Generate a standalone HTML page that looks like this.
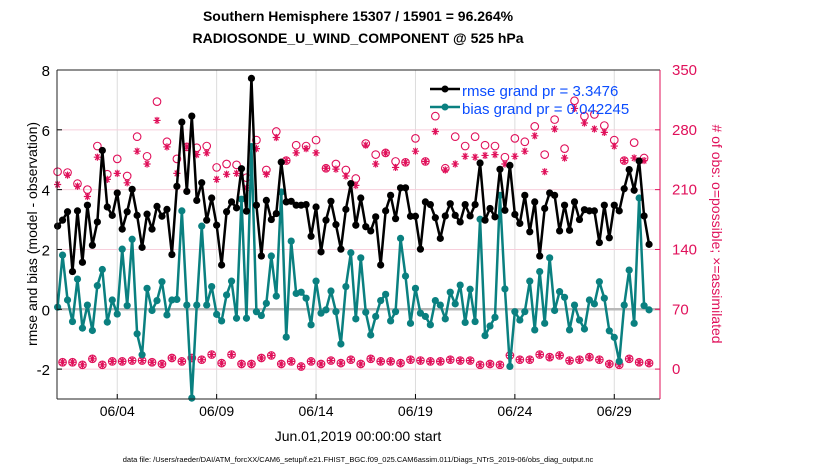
<!DOCTYPE html>
<html><head><meta charset="utf-8"><style>
body{margin:0;background:#fff;width:830px;height:470px;overflow:hidden}
svg text{font-family:"Liberation Sans",Arial,sans-serif}
</style></head><body>
<svg id="chart" width="830" height="470" xmlns="http://www.w3.org/2000/svg">
<text x="358" y="21" font-size="14" font-weight="bold" text-anchor="middle">Southern Hemisphere 15307 / 15901 = 96.264%</text>
<text x="358" y="43" font-size="14" font-weight="bold" text-anchor="middle">RADIOSONDE_U_WIND_COMPONENT @ 525 hPa</text>
<text transform="translate(37,234) rotate(-90)" font-size="14" text-anchor="middle">rmse and bias (model - observation)</text>
<text transform="translate(712,234) rotate(90)" font-size="14" text-anchor="middle" fill="#e0105a"># of obs: o=possible; ×=assimilated</text>
<text x="358" y="441" font-size="14" text-anchor="middle">Jun.01,2019 00:00:00 start</text>
<text x="358" y="462" font-size="7.5" text-anchor="middle">data file: /Users/raeder/DAI/ATM_forcXX/CAM6_setup/f.e21.FHIST_BGC.f09_025.CAM6assim.011/Diags_NTrS_2019-06/obs_diag_output.nc</text>
<g id="grid"></g><g id="marks"></g><g id="axes"></g>
<g>
<line x1="430" y1="89" x2="460" y2="89" stroke="#000" stroke-width="2.5"/><circle cx="445" cy="89" r="3.5" fill="#000"/>
<text x="462" y="96" font-size="15" fill="#0a4cff">rmse grand pr = 3.3476</text>
<line x1="430" y1="107" x2="460" y2="107" stroke="#0a8080" stroke-width="2.5"/><circle cx="445" cy="107" r="3.5" fill="#0a8080"/>
<text x="462" y="114" font-size="15" fill="#0a4cff">bias grand pr = 0.042245</text>
</g>
</svg>
<script>
const rmse=[2.78,2.98,3.26,1.26,3.29,1.57,3.48,2.14,2.92,5.31,3.42,3.14,3.89,2.68,3.26,4.01,3.14,2.07,3.18,2.68,3.44,3.11,3.34,1.83,4.11,6.26,3.94,6.46,3.64,4.23,2.98,3.72,2.81,1.48,3.26,3.59,3.39,4.70,3.28,7.72,3.48,1.78,3.64,3.00,3.20,4.92,3.59,3.61,3.48,3.48,3.50,2.44,3.42,1.92,2.98,3.61,2.83,2.01,3.34,4.20,2.81,3.72,2.76,2.62,3.09,1.48,3.29,3.81,3.03,4.06,4.06,3.11,3.11,2.01,3.59,3.50,3.06,2.37,3.12,3.53,3.14,2.92,3.50,3.12,3.50,4.89,2.98,3.37,3.09,4.68,3.31,4.81,3.17,2.87,3.81,2.59,3.59,1.78,3.37,3.89,3.81,2.62,3.48,2.64,3.59,3.00,3.33,3.29,3.29,2.23,3.48,2.39,3.48,3.29,4.03,4.67,3.98,4.96,3.12,2.17];
const bias=[0.07,1.81,0.31,-0.41,1.01,-0.63,0.14,-0.71,0.79,1.33,-0.43,0.31,-0.16,2.01,0.12,2.34,-0.82,-1.52,0.70,-0.04,0.29,0.92,-0.19,0.31,0.33,3.29,0.14,-2.97,0.14,2.78,0.14,0.76,-0.17,-0.39,0.48,0.94,-0.30,3.68,-0.30,5.44,-0.08,-0.21,0.20,1.78,0.44,3.92,-0.93,2.28,0.53,0.57,0.37,-0.52,0.94,-0.13,-0.02,0.61,-0.08,-1.16,0.76,1.89,-0.32,1.72,-0.10,-0.86,-0.24,0.29,0.50,-0.39,-0.08,2.37,1.11,-0.47,0.70,-0.13,-0.24,-0.52,0.29,0.14,-0.32,0.57,0.18,0.81,-0.44,0.67,-0.41,3.01,-0.88,-0.56,-0.27,3.81,0.68,-1.91,-0.08,-0.36,-0.08,0.94,-0.69,1.26,-0.47,1.72,-0.04,0.59,0.40,-0.69,0.14,-0.36,-0.66,0.31,0.18,0.92,0.37,-0.72,-0.94,-1.74,0.14,1.31,-0.47,3.72,0.12,-0.02];
const possEven=[231,230,217,210,261,228,246,226,272,249,313,266,246,260,259,261,236,240,239,224,268,233,278,244,262,261,268,235,240,233,223,264,251,253,243,242,270,243,296,235,272,261,272,262,261,248,270,266,284,251,292,258,314,296,298,285,268,244,265,247];
const assimEven=[216,227,214,202,248,222,229,218,255,240,291,260,229,260,251,253,222,228,229,212,258,228,271,244,253,258,253,235,234,226,215,262,240,253,236,242,255,243,278,233,240,249,248,250,251,240,249,255,273,231,281,247,305,288,281,277,261,244,247,244];
const obsOdd=[8,8,5,12,5,9,9,10,10,8,6,13,9,13,11,17,7,17,6,6,13,16,6,9,3,9,6,10,7,11,6,12,9,9,7,11,10,9,9,11,10,10,5,6,5,16,11,11,17,14,16,10,11,14,11,6,5,12,8,7];
const xTickLabels=["06/04","06/09","06/14","06/19","06/24","06/29"];
const xTickDays=[3,8,13,18,23,28];
const yLeftTicks=[-2,0,2,4,6,8];
const yRightTicks=[0,70,140,210,280,350];

const NS="http://www.w3.org/2000/svg";
const L=57,R=660,T=70,B=399;
const X=t=>L+(t+0.03)*(R-L)/30.33;
const Y=v=>B-(v+3)*(B-T)/11;
const YR=n=>Y(-2)+0-n*(Y(-2)-Y(8))/350;
const tOf=i=>i*0.25;
function mk(tag,attrs,parent){const e=document.createElementNS(NS,tag);for(const k in attrs)e.setAttribute(k,attrs[k]);document.getElementById(parent).appendChild(e);return e;}

// grid
xTickDays.forEach((d,k)=>{
 const g=mk('line',{x1:X(d),x2:X(d),y1:T,y2:B,stroke:'#dcdcdc','stroke-width':1},'grid');
 
 
 const tk=mk('text',{x:X(d),y:B+17,'font-size':14,'text-anchor':'middle'},'axes');tk.textContent=xTickLabels[k];
 
 
 mk('line',{x1:X(d),x2:X(d),y1:B,y2:B-5,stroke:'#000'},'axes');
});
yRightTicks.forEach(n=>{
 const g=mk('line',{x1:L,x2:R,y1:YR(n),y2:YR(n),stroke:'#f7cfdc','stroke-width':1},'grid');
 
 
 const tk=mk('text',{x:R+12,y:YR(n)+5,'font-size':15,fill:'#e0105a'},'axes');tk.textContent=n;
 
 
 mk('line',{x1:R,x2:R-5,y1:YR(n),y2:YR(n),stroke:'#e0105a'},'axes');
});
yLeftTicks.forEach(v=>{
 const tk=mk('text',{x:L-7,y:Y(v)+6,'font-size':15,'text-anchor':'end'},'axes');tk.textContent=v;
 
 
 mk('line',{x1:L,x2:L+5,y1:Y(v),y2:Y(v),stroke:'#000'},'axes');
});
const z=mk('line',{x1:L,x2:R,y1:Y(0),y2:Y(0),stroke:'#b8b8b8','stroke-width':2.5},'grid');



// obs markers
function star(cx,cy){
 const s=3.6;const d=`M${cx-s},${cy}H${cx+s}M${cx-s*0.6},${cy-s*0.8}L${cx+s*0.6},${cy+s*0.8}M${cx-s*0.6},${cy+s*0.8}L${cx+s*0.6},${cy-s*0.8}M${cx},${cy-s}V${cy+s}`;
 const e=mk('path',{d:d,stroke:'#e0105a','stroke-width':1.2,fill:'none'},'marks');
 
 
}
function ring(cx,cy){
 const e=mk('circle',{cx:cx,cy:cy,r:3.8,stroke:'#e0105a','stroke-width':1.1,fill:'none'},'marks');
 
 
}
possEven.forEach((n,k)=>{ring(X(tOf(2*k)),YR(n));});
assimEven.forEach((n,k)=>{star(X(tOf(2*k)),YR(n));});
obsOdd.forEach((n,k)=>{ring(X(tOf(2*k+1)),YR(n));star(X(tOf(2*k+1)),YR(n));});

// series
function series(arr,color,name){
 const p=mk('polyline',{points:arr.map((v,i)=>X(tOf(i))+','+Y(v)).join(' '),fill:'none',stroke:color,'stroke-width':2.5,'stroke-linejoin':'round'},'marks');
 
 
 arr.forEach((v,i)=>{
  const c=mk('circle',{cx:X(tOf(i)),cy:Y(v),r:3.6,fill:color},'marks');
  
  
 });
}
series(bias,'#0a8080','bias');
series(rmse,'#000','rmse');

// frame
mk('line',{x1:L,x2:R,y1:T,y2:T,stroke:'#222'},'axes');
mk('line',{x1:L,x2:R,y1:B,y2:B,stroke:'#222'},'axes');
mk('line',{x1:L,x2:L,y1:T,y2:B,stroke:'#222'},'axes');
mk('line',{x1:R,x2:R,y1:T,y2:B,stroke:'#e0105a'},'axes');
</script>
</body></html>
